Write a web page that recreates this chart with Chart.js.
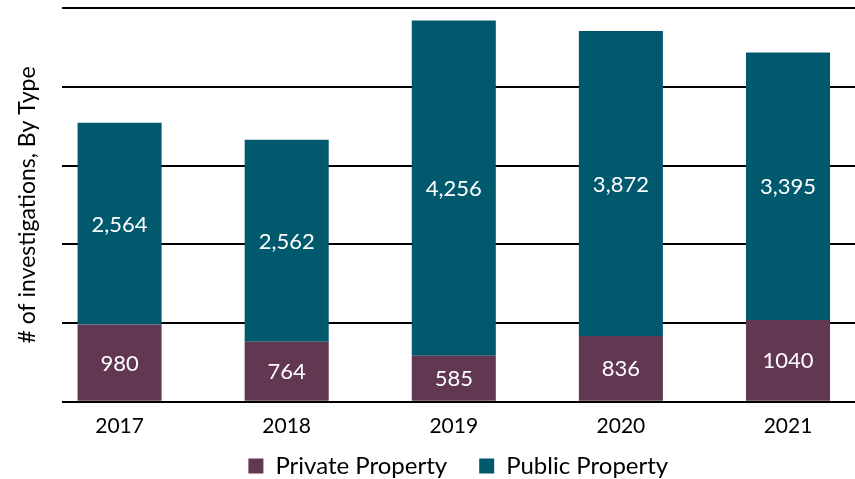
<!DOCTYPE html>
<html>
<head>
<meta charset="utf-8">
<script src="https://cdn.jsdelivr.net/npm/chart.js@4/dist/chart.umd.min.js"></script>
<style>
html,body{margin:0;padding:0;background:#fff;}
#wrap{width:855px;height:479px;position:relative;}
</style>
</head>
<body>
<div id="wrap"><canvas id="c"></canvas></div>
<script>
const years = ['2017', '2018', '2019', '2020', '2021'];
const privateProperty = [980, 764, 585, 836, 1040];
const publicProperty = [2564, 2562, 4256, 3872, 3395];
const yTicks = [0, 1000, 2000, 3000, 4000, 5000];

const FONT = 'Lato, "Open Sans", sans-serif';
const PRIVATE_COLOR = '#623752';
const PUBLIC_COLOR = '#01596E';

const labelPlugin = {
  id: 'segLabels',
  afterDatasetsDraw(chart) {
    const ctx = chart.ctx;
    ctx.save();
    ctx.fillStyle = '#ffffff';
    ctx.font = '22px ' + FONT;
    ctx.textAlign = 'center';
    ctx.textBaseline = 'middle';
    chart.data.datasets.forEach((ds, di) => {
      const meta = chart.getDatasetMeta(di);
      meta.data.forEach((bar, i) => {
        const v = ds.data[i].y;
        const txt = di === 0 ? String(v) : v.toLocaleString('en-US');
        const cy = (bar.y + bar.base) / 2;
        ctx.fillText(txt, bar.x, cy + 1);
      });
    });
    ctx.restore();
  }
};

const legendPlacePlugin = {
  id: 'legendPlace',
  afterLayout(chart) {
    const lg = chart.legend;
    if (!lg) return;
    lg.left = chart.chartArea.left;
    lg.right = chart.chartArea.right;
    lg.top -= 21;
    lg.bottom -= 21;
  }
};

new Chart(document.getElementById('c'), {
  type: 'bar',
  data: {
    datasets: [
      {
        label: 'Private Property',
        data: privateProperty.map((v, i) => ({x: i, y: v})),
        backgroundColor: PRIVATE_COLOR,
        barPercentage: 0.503,
        categoryPercentage: 1
      },
      {
        label: 'Public Property',
        data: publicProperty.map((v, i) => ({x: i, y: v})),
        backgroundColor: PUBLIC_COLOR,
        barPercentage: 0.503,
        categoryPercentage: 1
      }
    ]
  },
  options: {
    responsive: true,
    maintainAspectRatio: false,
    animation: false,
    layout: {padding: {left: 14, right: 0, top: 8, bottom: -30}},
    plugins: {
      legend: {
        position: 'bottom',
        labels: {
          font: {family: FONT, size: 24},
          color: '#000',
          boxWidth: 15,
          boxHeight: 15,
          padding: 32
        }
      },
      tooltip: {enabled: false}
    },
    scales: {
      x: {
        type: 'linear',
        stacked: true,
        offset: false,
        min: -0.347,
        max: 4.401,
        afterBuildTicks(scale) {
          scale.ticks = years.map((_, i) => ({value: i}));
        },
        ticks: {
          callback: (v) => years[v] !== undefined ? years[v] : '',
          font: {family: FONT, size: 21},
          color: '#000',
          padding: 4,
          maxRotation: 0,
          autoSkip: false
        },
        grid: {display: false, offset: false},
        border: {display: false}
      },
      y: {
        stacked: true,
        min: 0,
        max: 5000,
        afterBuildTicks(scale) {
          scale.ticks = yTicks.map(v => ({value: v}));
        },
        ticks: {display: false},
        grid: {color: '#000', lineWidth: 2, drawTicks: false},
        border: {display: false},
        title: {
          display: true,
          text: '# of investigations, By Type',
          font: {family: FONT, size: 23},
          color: '#000',
          padding: {top: 0, bottom: 20}
        }
      }
    }
  },
  plugins: [labelPlugin, legendPlacePlugin]
});
</script>
</body>
</html>
